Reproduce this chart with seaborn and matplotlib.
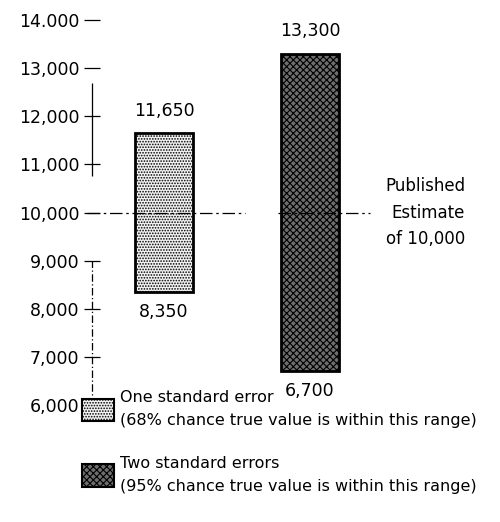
import matplotlib
matplotlib.use("Agg")
import matplotlib.pyplot as plt
from matplotlib.patches import Patch
import seaborn as sns

# data
ranges = ["One standard error", "Two standard errors"]
low = [8350, 6700]
high = [11650, 13300]
published = 10000
yticks = [6000, 7000, 8000, 9000, 10000, 11000, 12000, 13000, 14000]
ytick_labels = ["6,000", "7,000", "8,000", "9,000", "10,000",
                "11,000", "12,000", "13,000", "14.000"]
legend_labels = ["One standard error\n(68% chance true value is within this range)",
                 "Two standard errors\n(95% chance true value is within this range)"]

sns.set_theme(style="white")
plt.rcParams["font.family"] = ["DejaVu Sans"]
plt.rcParams["text.color"] = "black"
plt.rcParams["ytick.color"] = "black"
plt.rcParams["hatch.linewidth"] = 0.8

W, H = 500, 522
fig = plt.figure(figsize=(W / 100, H / 100), dpi=100)
ax = fig.add_axes([92 / W, 1 - 405 / H, (W - 92) / W, (405 - 20) / H])

face = ["#f2f2f2", "#6e6e6e"]
hatch = ["......", "xxxxx"]
xs = list(range(len(ranges)))
for i in xs:
    ax.bar(i, high[i] - low[i], bottom=low[i], width=0.4,
           color=face[i], edgecolor="black", linewidth=2, hatch=hatch[i], zorder=3)
    ax.text(i, high[i] + 280, f"{high[i]:,}", ha="center", va="bottom", fontsize=12.5)
    ax.text(i, low[i] - 230, f"{low[i]:,}", ha="center", va="top", fontsize=12.5)

ax.set_xlim(-72 / 146, (W - 164) / 146)
ax.set_ylim(6000, 14000)
ax.set_xticks([])
ax.set_yticks(yticks)
ax.set_yticklabels(ytick_labels, fontsize=12.5)
ax.tick_params(axis="y", direction="inout", length=12, width=0.9, pad=3, left=True)
for s in ax.spines.values():
    s.set_visible(False)

# broken hand-drawn axis
ax.vlines(-72 / 146, 10750, 12700, color="black", lw=0.9, clip_on=False)
ax.vlines(-72 / 146, 6000, 9000, color="black", lw=0.9, ls=(0, (6, 2, 1, 2)), clip_on=False)

# published estimate line
ax.plot([-77 / 146, 81 / 146], [published, published], color="black", lw=0.9,
        ls=(0, (10, 3, 2, 3)), clip_on=False, zorder=4)
ax.plot([114 / 146, 206 / 146], [published, published], color="black", lw=0.9,
        ls=(0, (10, 3, 2, 3)), clip_on=False, zorder=4)
ax.text(301 / 146, published, "Published\nEstimate\nof 10,000", ha="right", va="center",
        fontsize=12, linespacing=1.6)

handles = [Patch(facecolor=face[i], edgecolor="black", hatch=hatch[i], linewidth=1.5)
           for i in xs]
fig.legend(handles, legend_labels, loc="upper left", bbox_to_anchor=(76 / W, 1 - 384 / H),
           frameon=False, fontsize=11.5, handlelength=2.0, handleheight=1.8,
           handletextpad=0.35, labelspacing=1.8, borderaxespad=0)
for t in fig.legends[0].get_texts():
    t.set_linespacing(1.6)

fig.savefig("out.png", dpi=100)
